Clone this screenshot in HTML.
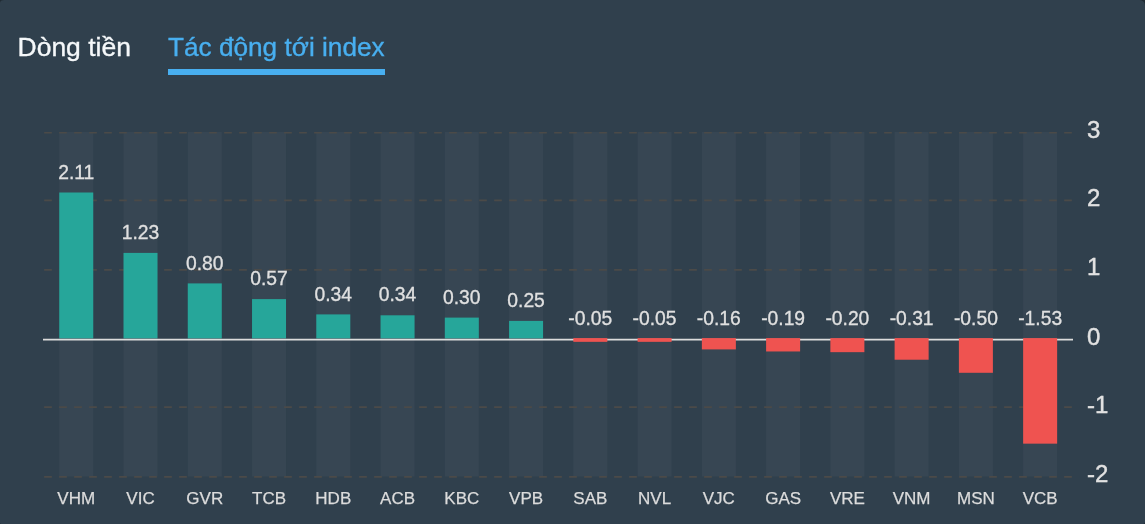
<!DOCTYPE html>
<html lang="vi"><head><meta charset="utf-8"><title>Tác động tới index</title>
<style>
html,body{margin:0;padding:0;}
body{width:1145px;height:524px;overflow:hidden;background:#202b33;font-family:"Liberation Sans",Arial,sans-serif;}
.card{position:absolute;left:0;top:0;width:1145px;height:524px;background:#30404d;border-radius:4.5px 5.5px 2px 1.5px / 3px 5.5px 2px 1.5px;overflow:hidden;}
.tab{position:absolute;top:31.5px;font-size:26.4px;line-height:30px;white-space:nowrap;-webkit-text-stroke:0.35px currentColor;}
.t1{left:17.5px;color:#f5f8fa;font-size:26.5px;}
.t2{left:168px;color:#48aff0;font-size:26.2px;}
.ul{position:absolute;left:168px;top:69px;width:217px;height:6px;background:#48aff0;}
.chart{position:absolute;left:0;top:0;}
.chart text{font-family:"Liberation Sans",Arial,sans-serif;}
.dl{font-size:19.3px;fill:#e0e0e0;stroke:#e0e0e0;stroke-width:0.3px;}
.xl{font-size:17px;fill:#dcdcdc;stroke:#dcdcdc;stroke-width:0.25px;}
.yl{font-size:24px;fill:#e2e2e2;stroke:#e2e2e2;stroke-width:0.4px;}
</style></head><body>
<div class="card">
<div class="tab t1">Dòng tiền</div>
<div class="tab t2">Tác động tới index</div>
<div class="ul"></div>
<svg class="chart" width="1145" height="524" viewBox="0 0 1145 524">
<rect x="59.25" y="132" width="34.0" height="344.5" fill="#374653"/>
<rect x="123.51" y="132" width="34.0" height="344.5" fill="#374653"/>
<rect x="187.77" y="132" width="34.0" height="344.5" fill="#374653"/>
<rect x="252.03" y="132" width="34.0" height="344.5" fill="#374653"/>
<rect x="316.29" y="132" width="34.0" height="344.5" fill="#374653"/>
<rect x="380.55" y="132" width="34.0" height="344.5" fill="#374653"/>
<rect x="444.81" y="132" width="34.0" height="344.5" fill="#374653"/>
<rect x="509.07" y="132" width="34.0" height="344.5" fill="#374653"/>
<rect x="573.33" y="132" width="34.0" height="344.5" fill="#374653"/>
<rect x="637.59" y="132" width="34.0" height="344.5" fill="#374653"/>
<rect x="701.85" y="132" width="34.0" height="344.5" fill="#374653"/>
<rect x="766.11" y="132" width="34.0" height="344.5" fill="#374653"/>
<rect x="830.37" y="132" width="34.0" height="344.5" fill="#374653"/>
<rect x="894.63" y="132" width="34.0" height="344.5" fill="#374653"/>
<rect x="958.89" y="132" width="34.0" height="344.5" fill="#374653"/>
<rect x="1023.15" y="132" width="34.0" height="344.5" fill="#374653"/>
<line x1="44.15" x2="1072" y1="132.75" y2="132.75" stroke="#4b4a48" stroke-width="1.7" stroke-dasharray="7.7 7.3"/>
<line x1="44.15" x2="1072" y1="200.30" y2="200.30" stroke="#4b4a48" stroke-width="1.7" stroke-dasharray="7.7 7.3"/>
<line x1="44.15" x2="1072" y1="269.85" y2="269.85" stroke="#4b4a48" stroke-width="1.7" stroke-dasharray="7.7 7.3"/>
<line x1="44.15" x2="1072" y1="407.10" y2="407.10" stroke="#4b4a48" stroke-width="1.7" stroke-dasharray="7.7 7.3"/>
<line x1="44.15" x2="1072" y1="476.80" y2="476.80" stroke="#4b4a48" stroke-width="1.7" stroke-dasharray="7.7 7.3"/>
<rect x="59.25" y="192.50" width="34.0" height="145.90" fill="#26a69a"/>
<rect x="123.51" y="252.90" width="34.0" height="85.50" fill="#26a69a"/>
<rect x="187.77" y="283.40" width="34.0" height="55.00" fill="#26a69a"/>
<rect x="252.03" y="299.10" width="34.0" height="39.30" fill="#26a69a"/>
<rect x="316.29" y="314.40" width="34.0" height="24.00" fill="#26a69a"/>
<rect x="380.55" y="315.30" width="34.0" height="23.10" fill="#26a69a"/>
<rect x="444.81" y="317.60" width="34.0" height="20.80" fill="#26a69a"/>
<rect x="509.07" y="320.90" width="34.0" height="17.50" fill="#26a69a"/>
<line x1="43" x2="1073" y1="339.55" y2="339.55" stroke="#dcdcdc" stroke-width="1.85"/>
<rect x="573.33" y="338.10" width="34.0" height="3.74" fill="#ef5350"/>
<rect x="637.59" y="338.10" width="34.0" height="3.74" fill="#ef5350"/>
<rect x="701.85" y="338.10" width="34.0" height="11.31" fill="#ef5350"/>
<rect x="766.11" y="338.10" width="34.0" height="13.37" fill="#ef5350"/>
<rect x="830.37" y="338.10" width="34.0" height="14.06" fill="#ef5350"/>
<rect x="894.63" y="338.10" width="34.0" height="21.63" fill="#ef5350"/>
<rect x="958.89" y="338.10" width="34.0" height="34.70" fill="#ef5350"/>
<rect x="1023.15" y="338.10" width="34.0" height="105.56" fill="#ef5350"/>
<text class="dl" x="76.25" y="178.60" text-anchor="middle">2.11</text>
<text class="dl" x="140.51" y="239.00" text-anchor="middle">1.23</text>
<text class="dl" x="204.77" y="269.50" text-anchor="middle">0.80</text>
<text class="dl" x="269.03" y="285.20" text-anchor="middle">0.57</text>
<text class="dl" x="333.29" y="300.50" text-anchor="middle">0.34</text>
<text class="dl" x="397.55" y="301.40" text-anchor="middle">0.34</text>
<text class="dl" x="461.81" y="303.70" text-anchor="middle">0.30</text>
<text class="dl" x="526.07" y="307.00" text-anchor="middle">0.25</text>
<text class="dl" x="590.33" y="324.50" text-anchor="middle">-0.05</text>
<text class="dl" x="654.59" y="324.50" text-anchor="middle">-0.05</text>
<text class="dl" x="718.85" y="324.50" text-anchor="middle">-0.16</text>
<text class="dl" x="783.11" y="324.50" text-anchor="middle">-0.19</text>
<text class="dl" x="847.37" y="324.50" text-anchor="middle">-0.20</text>
<text class="dl" x="911.63" y="324.50" text-anchor="middle">-0.31</text>
<text class="dl" x="975.89" y="324.50" text-anchor="middle">-0.50</text>
<text class="dl" x="1040.15" y="324.50" text-anchor="middle">-1.53</text>
<text class="xl" x="76.25" y="504" text-anchor="middle">VHM</text>
<text class="xl" x="140.51" y="504" text-anchor="middle">VIC</text>
<text class="xl" x="204.77" y="504" text-anchor="middle">GVR</text>
<text class="xl" x="269.03" y="504" text-anchor="middle">TCB</text>
<text class="xl" x="333.29" y="504" text-anchor="middle">HDB</text>
<text class="xl" x="397.55" y="504" text-anchor="middle">ACB</text>
<text class="xl" x="461.81" y="504" text-anchor="middle">KBC</text>
<text class="xl" x="526.07" y="504" text-anchor="middle">VPB</text>
<text class="xl" x="590.33" y="504" text-anchor="middle">SAB</text>
<text class="xl" x="654.59" y="504" text-anchor="middle">NVL</text>
<text class="xl" x="718.85" y="504" text-anchor="middle">VJC</text>
<text class="xl" x="783.11" y="504" text-anchor="middle">GAS</text>
<text class="xl" x="847.37" y="504" text-anchor="middle">VRE</text>
<text class="xl" x="911.63" y="504" text-anchor="middle">VNM</text>
<text class="xl" x="975.89" y="504" text-anchor="middle">MSN</text>
<text class="xl" x="1040.15" y="504" text-anchor="middle">VCB</text>
<text class="yl" x="1087" y="137.7">3</text>
<text class="yl" x="1087" y="205.7">2</text>
<text class="yl" x="1087" y="274.7">1</text>
<text class="yl" x="1087" y="344.7">0</text>
<text class="yl" x="1087" y="412.7">-1</text>
<text class="yl" x="1087" y="481.7">-2</text>
</svg>
</div>
</body></html>
